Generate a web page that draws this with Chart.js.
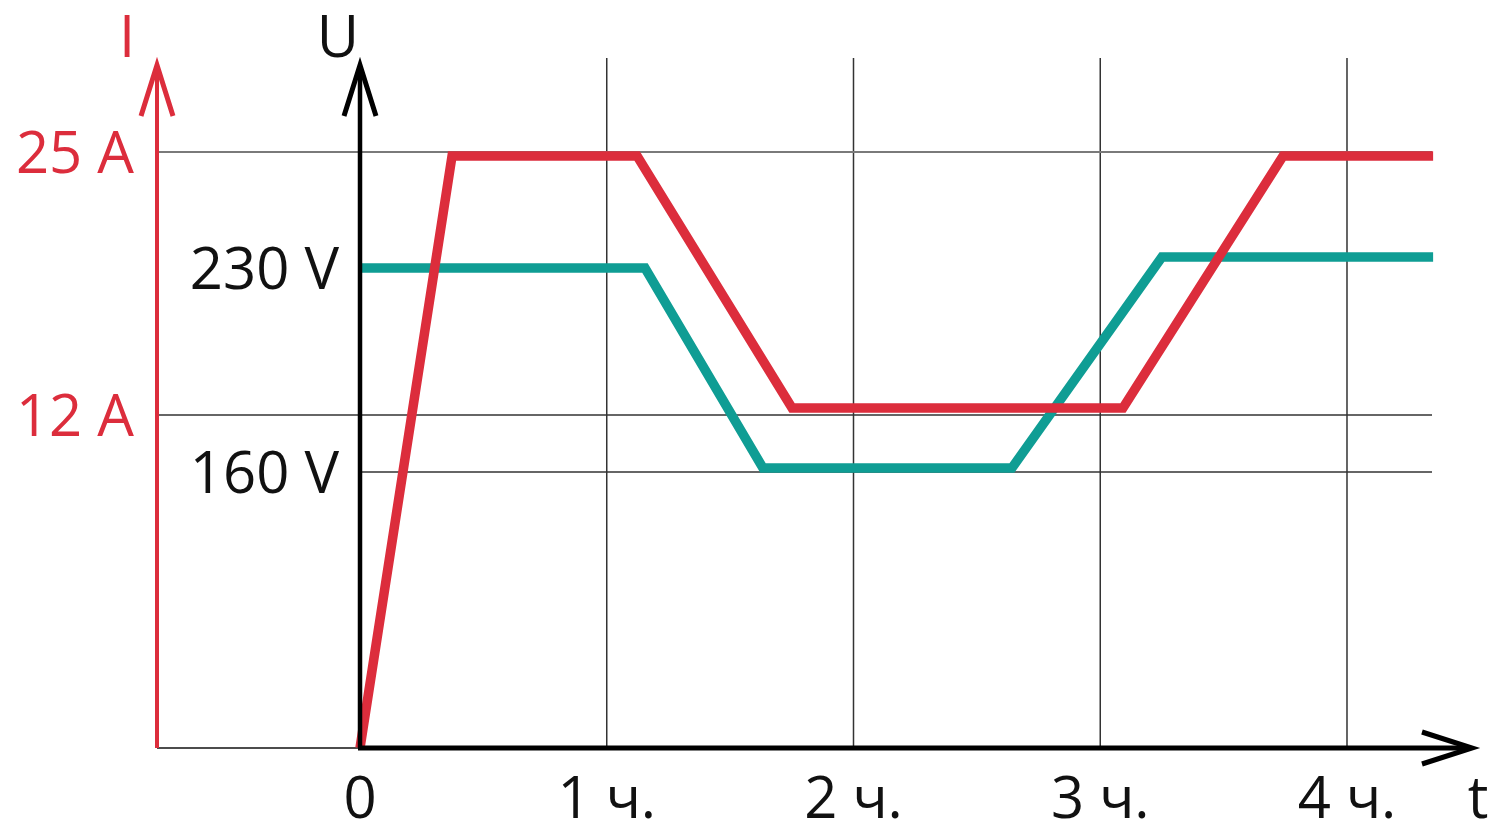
<!DOCTYPE html>
<html>
<head>
<meta charset="utf-8">
<script src="https://cdn.jsdelivr.net/npm/chart.js@4/dist/chart.umd.min.js"></script>
<style>
  html, body { margin: 0; padding: 0; background: #fff; }
  #wrap { width: 1491px; height: 825px; position: relative; }
</style>
</head>
<body>
<div id="wrap"><canvas id="myChart"></canvas></div>
<script>
// time, hours
const currentTimes = [0, 0.373, 1.123, 1.751, 3.092, 3.741, 4.349];
const currentValues = [0, 24.8, 24.8, 12.35, 12.35, 24.8, 24.8];   // A
const voltageTimes = [0, 1.155, 1.633, 2.642, 3.25, 4.349];
const voltageValues = [230, 230, 161.4, 161.4, 233.8, 233.8];       // V

const timeTicks = [0, 1, 2, 3, 4];
const timeLabels = ['0', '1 ч.', '2 ч.', '3 ч.', '4 ч.'];
const currentTicks = [12, 25];
const currentLabels = ['12 A', '25 A'];
const voltageTicks = [160, 230];
const voltageLabels = ['160 V', '230 V'];

const RED = '#dc2d3c';
const TEAL = '#0f9d94';
const FONT = '58px "Open Sans"';

// the current axis in the picture is not linear, so map values piecewise
class BrokenScale extends Chart.LinearScale {
    toDecimal(v) {
        const b = this.options.breaks;
        for (let i = 1; i < b.length; i++) {
            if (v <= b[i][0] || i === b.length - 1) {
                const [v0, d0] = b[i - 1], [v1, d1] = b[i];
                return d0 + (v - v0) * (d1 - d0) / (v1 - v0);
            }
        }
    }
    getPixelForValue(v) {
        if (v === null || isNaN(v)) return NaN;
        return this.getPixelForDecimal(this.toDecimal(v));
    }
    getValueForPixel(p) {
        const d = this.getDecimalForPixel(p);
        const b = this.options.breaks;
        for (let i = 1; i < b.length; i++) {
            if (d <= b[i][1] || i === b.length - 1) {
                const [v0, d0] = b[i - 1], [v1, d1] = b[i];
                return v0 + (d - d0) * (v1 - v0) / (d1 - d0);
            }
        }
    }
}
BrokenScale.id = 'broken';
BrokenScale.defaults = Chart.LinearScale.defaults;
Chart.register(BrokenScale);

function arrow(ctx, tx, ty, ax, ay, bx, by) {
    ctx.beginPath();
    ctx.moveTo(ax, ay);
    ctx.lineTo(tx, ty);
    ctx.lineTo(bx, by);
    ctx.stroke();
}

const gridPlugin = {
    id: 'grid',
    beforeDatasetsDraw(chart) {
        const {ctx, chartArea: a, scales: {x, yI, yU}} = chart;
        ctx.save();
        ctx.lineCap = 'butt';
        // vertical grid
        ctx.strokeStyle = '#333';
        ctx.lineWidth = 1.5;
        timeTicks.forEach(t => {
            if (t === 0) return;
            const px = x.getPixelForValue(t);
            ctx.beginPath(); ctx.moveTo(px, a.top); ctx.lineTo(px, a.bottom); ctx.stroke();
        });
        // current grid
        currentTicks.forEach(v => {
            const py = yI.getPixelForValue(v);
            ctx.strokeStyle = v === 25 ? '#7a7a7a' : '#333';
            ctx.lineWidth = v === 25 ? 2 : 1.5;
            ctx.beginPath(); ctx.moveTo(a.left, py); ctx.lineTo(a.right, py); ctx.stroke();
        });
        // voltage grid (only 160 V has a line)
        ctx.strokeStyle = '#333';
        ctx.lineWidth = 1.5;
        const p160 = yU.getPixelForValue(160);
        ctx.beginPath(); ctx.moveTo(x.getPixelForValue(0), p160); ctx.lineTo(a.right, p160); ctx.stroke();
        // thin base line left of zero
        ctx.strokeStyle = '#111';
        ctx.beginPath(); ctx.moveTo(a.left, a.bottom); ctx.lineTo(x.getPixelForValue(0), a.bottom); ctx.stroke();
        ctx.restore();
    },
    afterDatasetsDraw(chart) {
        const {ctx, chartArea: a, scales: {x, yI, yU}} = chart;
        const x0 = x.getPixelForValue(0);
        const top = a.top + 7;
        ctx.save();
        ctx.lineJoin = 'miter';
        ctx.lineCap = 'butt';
        // I axis
        ctx.strokeStyle = RED;
        ctx.lineWidth = 4;
        ctx.beginPath(); ctx.moveTo(a.left, a.bottom); ctx.lineTo(a.left, top + 3); ctx.stroke();
        ctx.lineWidth = 5;
        arrow(ctx, a.left, top, a.left - 16, top + 51, a.left + 16, top + 51);
        // U axis
        ctx.strokeStyle = '#000';
        ctx.lineWidth = 4.5;
        ctx.beginPath(); ctx.moveTo(x0, a.bottom); ctx.lineTo(x0, top + 3); ctx.stroke();
        ctx.lineWidth = 5;
        arrow(ctx, x0, top, x0 - 16, top + 51, x0 + 16, top + 51);
        // t axis
        ctx.lineWidth = 5;
        const xEnd = a.right + 40;
        ctx.beginPath(); ctx.moveTo(x0 - 2, a.bottom); ctx.lineTo(xEnd - 3, a.bottom); ctx.stroke();
        arrow(ctx, xEnd, a.bottom, xEnd - 50, a.bottom - 16, xEnd - 50, a.bottom + 16);

        // labels
        ctx.font = FONT;
        ctx.textBaseline = 'alphabetic';
        ctx.fillStyle = RED;
        ctx.textAlign = 'right';
        currentTicks.forEach((v, i) => {
            ctx.fillText(currentLabels[i], a.left - 23, yI.getPixelForValue(v) + 21);
        });
        ctx.textAlign = 'center';
        ctx.fillText('I', a.left - 30, 57);

        ctx.fillStyle = '#111';
        ctx.textAlign = 'right';
        voltageTicks.forEach((v, i) => {
            ctx.fillText(voltageLabels[i], x0 - 21, yU.getPixelForValue(v) + 21);
        });
        ctx.textAlign = 'center';
        ctx.fillText('U', x0 - 22, 57);
        timeTicks.forEach((t, i) => {
            ctx.fillText(timeLabels[i], x.getPixelForValue(t), 818);
        });
        ctx.fillText('t', xEnd + 6, 818);
        ctx.restore();
    }
};

const ctx = document.getElementById('myChart').getContext('2d');
const chart = new Chart(ctx, {
    type: 'line',
    data: {
        datasets: [{
            label: 'I',
            data: currentTimes.map((t, i) => ({x: t, y: currentValues[i]})),
            yAxisID: 'yI',
            borderColor: RED,
            borderWidth: 9.5,
            borderJoinStyle: 'miter',
            pointRadius: 0,
            tension: 0,
            clip: false
        }, {
            label: 'U',
            data: voltageTimes.map((t, i) => ({x: t, y: voltageValues[i]})),
            yAxisID: 'yU',
            borderColor: TEAL,
            borderWidth: 9.5,
            borderJoinStyle: 'miter',
            pointRadius: 0,
            tension: 0,
            clip: false
        }]
    },
    options: {
        responsive: true,
        maintainAspectRatio: false,
        animation: false,
        layout: {padding: {left: 157, right: 59, top: 58, bottom: 77}},
        plugins: {legend: {display: false}, tooltip: {enabled: false}},
        scales: {
            x: {type: 'linear', min: -0.8227, max: 4.3445, display: false},
            yI: {
                type: 'broken', min: 0, max: 30, display: false,
                breaks: [[0, 0], [12, 0.4826], [25, 0.8638], [30, 1]]
            },
            yU: {type: 'linear', min: 65.29, max: 302.06, display: false}
        }
    },
    plugins: [gridPlugin]
});
</script>
</body>
</html>
